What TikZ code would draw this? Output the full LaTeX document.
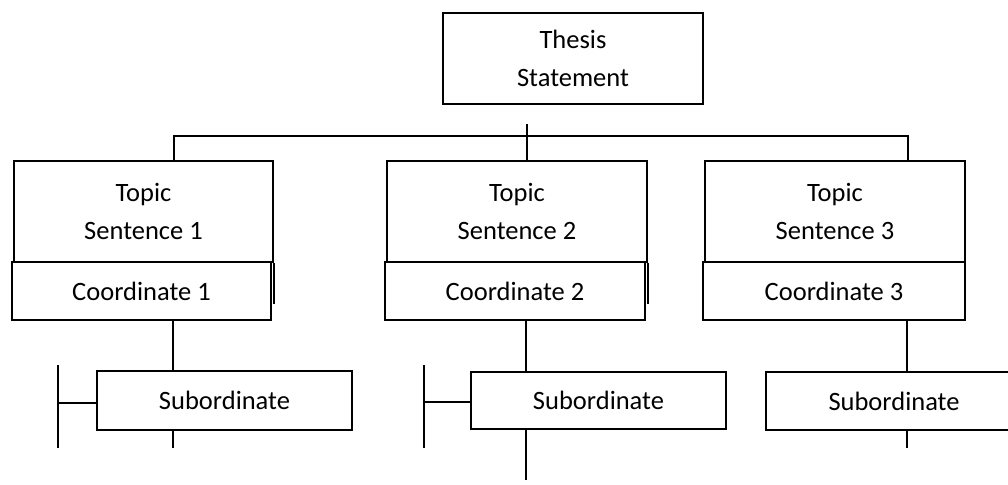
\documentclass[tikz,border=0pt]{standalone}
\usepackage{fontspec}
\setmainfont{Carlito}
\begin{document}
\begin{tikzpicture}[x=1pt,y=-1pt,
  box/.style={draw, line width=2pt, fill=white, inner sep=0pt, align=center,
    font=\fontsize{26.5}{38}\selectfont, anchor=north west},
  conn/.style={line width=2pt}]
\useasboundingbox (0,0) rectangle (1008,484);
\clip (0,0) rectangle (1008,484);
% thesis
\node[box, minimum width=260pt, minimum height=91pt] (thesis) at (442,12) {Thesis\\Statement};
% topic boxes
\node[box, minimum width=259pt, minimum height=101pt] (t1) at (13,160) {Topic\\Sentence 1};
\node[box, minimum width=260pt, minimum height=101pt] (t2) at (386,160) {Topic\\Sentence 2};
\node[box, minimum width=260pt, minimum height=101pt] (t3) at (704,160) {Topic\\Sentence 3};
\foreach \t in {t1,t2,t3}{
  \draw[conn] (\t.south west) -- ++(0,41);
}
\draw[conn] (t1.south east) -- ++(0,41);
\draw[conn] (t2.south east) -- ++(0,41);
% coordinate boxes
\node[box, minimum width=259pt, minimum height=58pt] (c1) at (11,261) {Coordinate 1};
\node[box, minimum width=260pt, minimum height=58pt] (c2) at (384,261) {Coordinate 2};
\node[box, minimum width=262pt, minimum height=58pt] (c3) at (702,261) {Coordinate 3};
% subordinate boxes
\node[box, minimum width=255pt, minimum height=59pt] (s1) at (96,370) {Subordinate};
\node[box, minimum width=255pt, minimum height=57pt] (s2) at (470,371) {Subordinate};
\node[box, minimum width=256pt, minimum height=58pt] (s3) at (765,371) {Subordinate};
% thesis connectors
\coordinate (stub) at (527,124);
\coordinate (hl) at (174,136);
\coordinate (hr) at (908,136);
\draw[conn] (stub) -- (stub |- t2.north);
\draw[conn] (hl |- t1.north) -- (hl) -- (hr) -- (hr |- t3.north);
% coordinate to subordinate
\coordinate (x1) at (173,0);
\coordinate (x2) at (526,0);
\coordinate (x3) at (907,0);
\draw[conn] (x1 |- c1.south) -- (x1 |- s1.north);
\draw[conn] (x2 |- c2.south) -- (x2 |- s2.north);
\draw[conn] (x3 |- c3.south) -- (x3 |- s3.north);
% stubs below
\coordinate (e1) at (173,448);
\coordinate (e2) at (526,480);
\coordinate (e3) at (907,448);
\draw[conn] (x1 |- s1.south) -- (e1);
\draw[conn] (x2 |- s2.south) -- (e2);
\draw[conn] (x3 |- s3.south) -- (e3);
% left brackets
\coordinate (b1t) at (58,365);
\coordinate (b1b) at (58,448);
\coordinate (b1m) at (58,403);
\draw[conn] (b1t) -- (b1b);
\draw[conn] (b1m) -- (b1m -| s1.west);
\coordinate (b2t) at (424,365);
\coordinate (b2b) at (424,448);
\coordinate (b2m) at (424,402);
\draw[conn] (b2t) -- (b2b);
\draw[conn] (b2m) -- (b2m -| s2.west);
\end{tikzpicture}
\end{document}
